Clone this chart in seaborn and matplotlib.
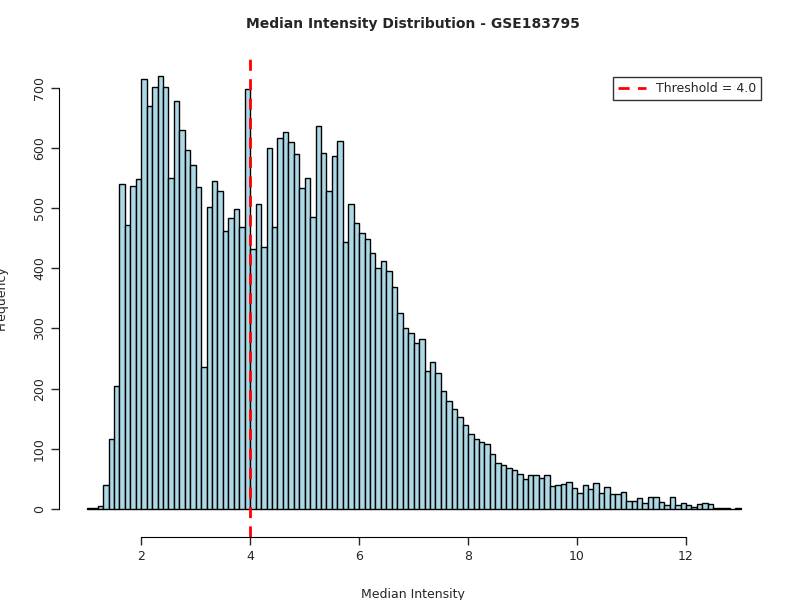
import numpy as np
import pandas as pd
import matplotlib
matplotlib.use("Agg")
import matplotlib.pyplot as plt
import seaborn as sns

# histogram counts, bins of width 0.1 from 1.0 to 13.0
counts = [1, 1, 5, 40, 116, 204, 540, 472, 537, 549,
          714, 670, 701, 720, 701, 550, 678, 630, 596, 571,
          535, 236, 502, 545, 528, 462, 483, 498, 468, 697,
          432, 507, 435, 600, 468, 616, 626, 610, 590, 534,
          550, 485, 636, 591, 528, 586, 611, 443, 507, 475,
          458, 448, 425, 400, 412, 395, 369, 325, 300, 292,
          275, 282, 229, 244, 226, 196, 179, 166, 152, 139,
          124, 116, 111, 108, 91, 76, 73, 68, 64, 58,
          49, 56, 56, 52, 56, 38, 40, 42, 45, 35,
          27, 40, 33, 43, 27, 37, 25, 25, 28, 13,
          13, 18, 10, 20, 20, 12, 7, 20, 7, 10,
          7, 3, 8, 10, 8, 1, 1, 1, 0, 1]
bin_start, bin_width = 1.0, 0.1
threshold = 4.0

centers = bin_start + bin_width * (np.arange(len(counts)) + 0.5)
df = pd.DataFrame({"intensity": centers, "n": counts})

sns.set_style("white")
fig = plt.figure(figsize=(8, 6), dpi=100)
ax = fig.add_axes([0.074, 0.105, 0.885, 0.797])
sns.histplot(data=df, x="intensity", weights="n", binwidth=bin_width,
             binrange=(bin_start, bin_start + bin_width * len(counts)), ax=ax,
             color="#ADD8E6", edgecolor="black", linewidth=1, alpha=1)
ax.axvline(threshold, color="red", linestyle=(0, (4, 3)), linewidth=2,
           label=f"Threshold = {threshold:.1f}")

ax.set_xlim(0.495, 13.49)
ax.set_ylim(-46.6, 748)
ax.set_xticks([2, 4, 6, 8, 10, 12])
ax.set_yticks(range(0, 701, 100))
ax.tick_params(axis="both", direction="out", length=6, width=1, labelsize=9,
               bottom=True, left=True)
plt.setp(ax.get_yticklabels(), rotation=90, va="center")
for s in ["top", "right"]:
    ax.spines[s].set_visible(False)
ax.spines["bottom"].set_bounds(2, 12)
ax.spines["left"].set_bounds(0, 700)
ax.spines["bottom"].set_color("black")
ax.spines["left"].set_color("black")

ax.set_xlabel("Median Intensity", fontsize=9, labelpad=18)
ax.set_ylabel("Frequency", fontsize=9, labelpad=18)
ax.set_title("Median Intensity Distribution - GSE183795", fontsize=10,
             fontweight="bold", pad=22)
leg = ax.legend(loc="upper right", bbox_to_anchor=(1.0, 0.975), fontsize=9,
                frameon=True, fancybox=False, handlelength=2.2)
leg.get_frame().set_edgecolor("black")
leg.get_frame().set_linewidth(1)

fig.savefig("out.png", dpi=100)
